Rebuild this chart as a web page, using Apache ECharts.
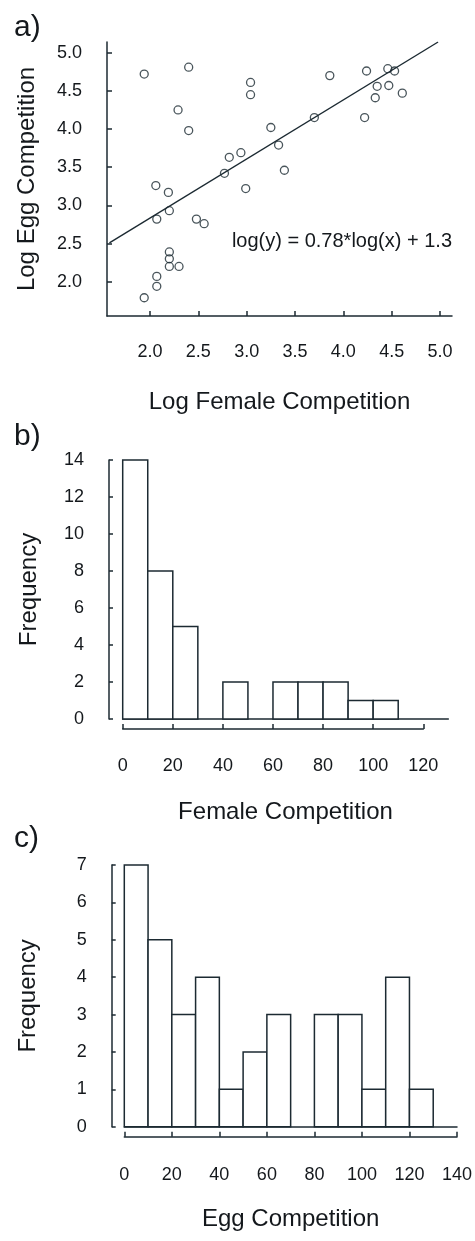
<!DOCTYPE html>
<html>
<head>
<meta charset="utf-8">
<script src="https://cdn.jsdelivr.net/npm/echarts@6/dist/echarts.min.js"></script>
<style>
  body { margin: 0; background: #fff; }
  #chart { width: 475px; height: 1241px; }
</style>
</head>
<body>
<div id="chart"></div>
<script>
// a) log female competition vs log egg competition
const logFemale = [1.94, 2.40, 2.29, 2.40, 3.04, 3.04, 3.25, 3.33, 3.39, 2.94, 2.82, 2.77,
  2.99, 3.70, 3.86, 4.24, 4.22, 4.46, 4.53, 4.35, 4.47, 4.33, 4.61, 2.06, 2.19,
  2.20, 2.07, 2.48, 2.56, 2.20, 2.20, 2.20, 2.30, 2.07, 2.07, 1.94];
const logEgg = [4.72, 4.81, 4.25, 3.98, 4.61, 4.45, 4.02, 3.79, 3.46, 3.69, 3.63, 3.42,
  3.22, 4.15, 4.70, 4.76, 4.15, 4.79, 4.76, 4.56, 4.57, 4.41, 4.47, 3.26, 3.17,
  2.93, 2.82, 2.82, 2.76, 2.39, 2.30, 2.20, 2.20, 2.07, 1.94, 1.79];
const fitLine = [[1.58, 2.51], [4.98, 5.14]];
const logTicks = [2.0, 2.5, 3.0, 3.5, 4.0, 4.5, 5.0];

// b) female competition histogram
const femaleBinEdges = [0, 10, 20, 30, 40, 50, 60, 70, 80, 90, 100, 110, 120, 130];
const femaleCounts = [14, 8, 5, 0, 2, 0, 2, 2, 2, 1, 1, 0, 0];

// c) egg competition histogram
const eggBinEdges = [0, 10, 20, 30, 40, 50, 60, 70, 80, 90, 100, 110, 120, 130, 140];
const eggCounts = [7, 5, 3, 4, 1, 2, 3, 0, 3, 3, 1, 4, 1, 0];

const ink = "#1c2a32";
const textColor = "#14181c";
const font = "Liberation Sans, Arial, sans-serif";

const toBins = (edges, counts) => counts.map((c, i) => [edges[i], edges[i + 1], c]);

const renderBar = (params, api) => {
  const h = api.value(2);
  if (!h) return;
  const p0 = api.coord([api.value(0), h]);
  const p1 = api.coord([api.value(1), 0]);
  return {
    type: "rect",
    shape: { x: p0[0], y: p0[1], width: p1[0] - p0[0], height: p1[1] - p0[1] },
    style: { fill: "#fff", stroke: ink, lineWidth: 1.5 },
  };
};

const axisLine = { show: true, onZero: false, lineStyle: { color: ink, width: 1.5 } };
const axisTick = { show: true, inside: true, length: 5, lineStyle: { color: ink, width: 1.5 } };
const tickLabel = { color: textColor, fontSize: 18, fontFamily: font };
const nameStyle = { color: textColor, fontSize: 24, fontFamily: font };

const chart = echarts.init(document.getElementById("chart"));

chart.setOption({
  animation: false,
  grid: [
    { left: 107, top: 42, width: 345, height: 274 },
    { left: 122.7, top: 460, width: 325.6, height: 259 },
    { left: 122.7, top: 460, width: 300.6, height: 259 },
    { left: 124.3, top: 865, width: 333, height: 261.7 },
  ],
  xAxis: [
    {
      gridIndex: 0, type: "value", min: 1.555, max: 5.124,
      axisLine, splitLine: { show: false },
      axisTick: { ...axisTick, customValues: logTicks },
      axisLabel: { ...tickLabel, margin: 27, customValues: logTicks, formatter: (v) => v.toFixed(1) },
      name: "Log Female Competition", nameLocation: "middle", nameGap: 74, nameTextStyle: nameStyle,
    },
    {
      gridIndex: 1, type: "value", min: 0, max: 130,
      axisLine, splitLine: { show: false }, axisTick: { show: false }, axisLabel: { show: false },
      name: "Female Competition", nameLocation: "middle", nameGap: 81, nameTextStyle: nameStyle,
    },
    {
      gridIndex: 2, type: "value", min: 0, max: 120, interval: 20, offset: 10,
      axisLine, axisTick, splitLine: { show: false },
      axisLabel: { ...tickLabel, margin: 28 },
    },
    {
      gridIndex: 3, type: "value", min: 0, max: 140,
      axisLine, splitLine: { show: false }, axisTick: { show: false }, axisLabel: { show: false },
    },
    {
      gridIndex: 3, type: "value", position: "bottom", min: 0, max: 140, interval: 20, offset: 10,
      axisLine, axisTick, splitLine: { show: false },
      axisLabel: { ...tickLabel, margin: 29 },
      name: "Egg Competition", nameLocation: "middle", nameGap: 71, nameTextStyle: nameStyle,
    },
  ],
  yAxis: [
    {
      gridIndex: 0, type: "value", min: 1.551, max: 5.14,
      axisLine, splitLine: { show: false },
      axisTick: { ...axisTick, customValues: logTicks },
      axisLabel: { ...tickLabel, margin: 25, customValues: logTicks, formatter: (v) => v.toFixed(1) },
      name: "Log Egg Competition", nameLocation: "middle", nameGap: 68, nameTextStyle: nameStyle,
    },
    {
      gridIndex: 1, type: "value", min: 0, max: 14, interval: 2, offset: 13.7,
      axisLine, splitLine: { show: false }, axisTick: { ...axisTick, length: 4 },
      axisLabel: { ...tickLabel, margin: 25 },
      name: "Frequency", nameLocation: "middle", nameGap: 68, nameTextStyle: nameStyle,
    },
    { gridIndex: 2, type: "value", min: 0, max: 14, show: false },
    {
      gridIndex: 3, type: "value", min: 0, max: 7, interval: 1, offset: 12.6,
      axisLine, splitLine: { show: false }, axisTick: { ...axisTick, length: 4 },
      axisLabel: { ...tickLabel, margin: 25 },
      name: "Frequency", nameLocation: "middle", nameGap: 71, nameTextStyle: nameStyle,
    },
  ],
  graphic: [
    { type: "text", left: 14, top: 13, style: { text: "a)", fontSize: 30, fontFamily: font, fill: textColor } },
    { type: "text", left: 14, top: 422, style: { text: "b)", fontSize: 30, fontFamily: font, fill: textColor } },
    { type: "text", left: 14, top: 824, style: { text: "c)", fontSize: 30, fontFamily: font, fill: textColor } },
    {
      type: "text", right: 23, top: 231,
      style: { text: "log(y) = 0.78*log(x) + 1.3", fontSize: 20, fontFamily: font, fill: textColor },
    },
  ],
  series: [
    {
      type: "line", xAxisIndex: 0, yAxisIndex: 0, data: fitLine,
      symbol: "none", lineStyle: { color: ink, width: 1.4 }, silent: true,
    },
    {
      type: "scatter", xAxisIndex: 0, yAxisIndex: 0,
      data: logFemale.map((x, i) => [x, logEgg[i]]),
      symbol: "circle", symbolSize: 8,
      itemStyle: { color: "rgba(0,0,0,0)", borderColor: ink, borderWidth: 1.3 },
    },
    {
      type: "custom", xAxisIndex: 1, yAxisIndex: 1,
      data: toBins(femaleBinEdges, femaleCounts), renderItem: renderBar,
    },
    {
      type: "custom", xAxisIndex: 3, yAxisIndex: 3,
      data: toBins(eggBinEdges, eggCounts), renderItem: renderBar,
    },
  ],
});
</script>
</body>
</html>
